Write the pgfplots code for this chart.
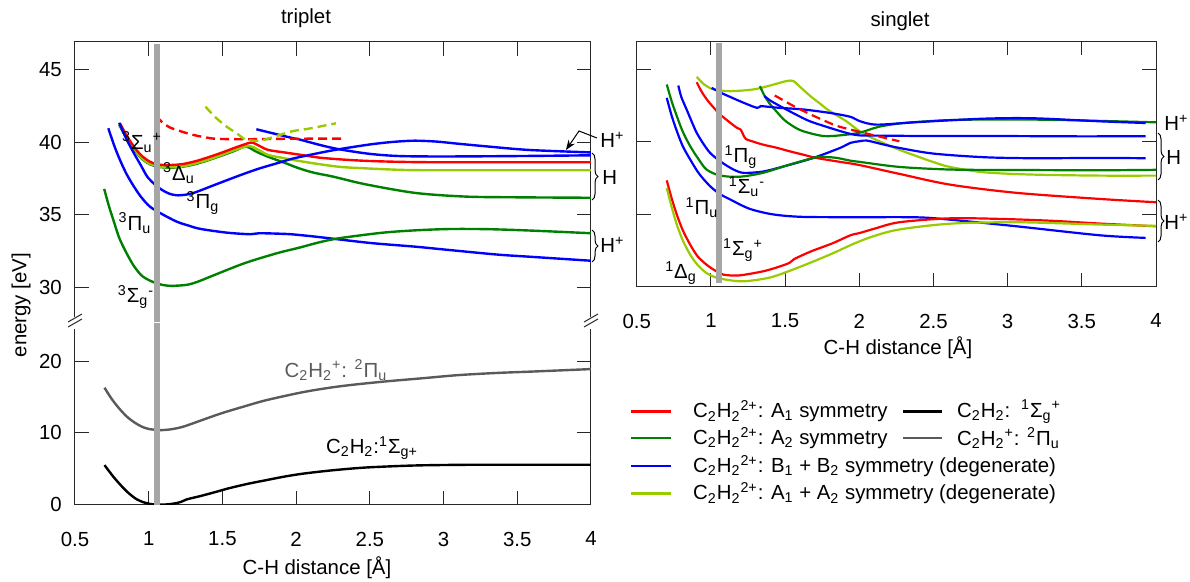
\documentclass[border=0pt]{standalone}
\usepackage{fontspec}
\setmainfont{Liberation Sans}
\usepackage{pgfplots}
\pgfplotsset{compat=1.18}
\usetikzlibrary{decorations.pathreplacing,arrows.meta}

\definecolor{cred}{RGB}{255,0,0}
\definecolor{cgreen}{RGB}{0,128,0}
\definecolor{cblue}{RGB}{0,0,255}
\definecolor{clime}{RGB}{153,204,0}
\definecolor{cgray}{RGB}{90,90,90}
\definecolor{cbar}{RGB}{166,166,166}
\definecolor{cframe}{RGB}{40,40,40}

\newcommand{\su}[1]{\textsuperscript{#1}}
\newcommand{\sd}[1]{\textsubscript{#1}}
\newcommand{\dic}{C\sd{2}H\sd{2}\su{2+}}

\pgfplotsset{
  chart/.style={
    scale only axis, anchor=south west,
    xmin=0.5, xmax=4,
    tick align=inside, major tick length=7pt,
    axis line style={draw=cframe, line width=0.5pt},
    tick style={draw=cframe, line width=0.5pt},
    /pgf/number format/assume math mode=true,
    yticklabel style={xshift=-3pt},
    xticklabel style={yshift=-10pt},
    every axis plot/.append style={no markers, smooth, line width=1.2pt},
  },
  vbar/.style={draw=cbar, line width=3pt, sharp plot},
  dsh/.style={dash pattern=on 4.5pt off 2.5pt},
}

\begin{document}
\fontsize{10.2}{12}\selectfont
\begin{tikzpicture}[x=0.5pt,y=-0.5pt]
\useasboundingbox (0,0) rectangle (1190,582);

% ---------- triplet, upper part
\begin{axis}[chart, at={(37.5pt,-161pt)}, width=258pt, height=140.25pt,
  ymin=27.59, ymax=46.96,
  separate axis lines, axis x line*=top, axis y line*=box,
  xtick={1,1.5,2,2.5,3,3.5}, xticklabels={},
  ytick={30,35,40,45}]
\addplot[cgreen] coordinates {(0.80,41.2)(0.86,40.1)(0.917,39.3)(0.96,38.8)(1.008,38.48)(1.06,38.32)(1.12,38.25)(1.21,38.28)(1.32,38.5)(1.42,38.82)(1.5,39.1)(1.58,39.4)(1.66,39.7)(1.73,39.35)(1.81,39.0)(1.93,38.55)(2.02,38.2)(2.12,37.9)(2.25,37.63)(2.47,37.1)(2.81,36.5)(3.15,36.25)(3.5,36.2)(4.0,36.17)};
\addplot[clime] coordinates {(0.80,41.3)(0.86,40.2)(0.917,39.35)(0.96,38.85)(1.008,38.52)(1.06,38.35)(1.12,38.28)(1.21,38.3)(1.32,38.55)(1.42,38.85)(1.5,39.15)(1.58,39.45)(1.68,39.75)(1.74,39.5)(1.81,39.13)(1.92,38.9)(2.02,38.71)(2.15,38.5)(2.3,38.3)(2.47,38.2)(2.7,38.1)(2.92,38.07)(4.0,38.07)};
\addplot[cred] coordinates {(0.805,41.31)(0.86,40.3)(0.917,39.47)(0.96,39.0)(1.008,38.66)(1.05,38.5)(1.098,38.43)(1.17,38.44)(1.234,38.5)(1.32,38.7)(1.415,39.0)(1.5,39.3)(1.573,39.58)(1.64,39.82)(1.70,39.98)(1.76,39.7)(1.81,39.47)(1.92,39.3)(2.02,39.15)(2.15,38.95)(2.3,38.82)(2.47,38.72)(2.7,38.65)(3.0,38.62)(4.0,38.62)};
\addplot[cblue] coordinates {(0.80,41.35)(0.85,40.2)(0.90,39.24)(0.95,38.35)(0.99,37.63)(1.04,37.1)(1.09,36.71)(1.14,36.45)(1.19,36.34)(1.25,36.38)(1.31,36.52)(1.42,36.95)(1.53,37.38)(1.64,37.8)(1.75,38.19)(1.87,38.55)(1.98,38.88)(2.16,39.27)(2.29,39.52)(2.5,39.85)(2.65,40.02)(2.80,40.11)(2.95,40.05)(3.1,39.9)(3.31,39.7)(3.58,39.47)(4.0,39.3)};
\addplot[cblue] coordinates {(0.726,40.97)(0.765,39.8)(0.805,38.78)(0.85,37.8)(0.90,36.94)(0.95,36.2)(1.008,35.56)(1.08,35.1)(1.19,34.52)(1.27,34.25)(1.35,34.02)(1.53,33.76)(1.69,33.65)(1.75,33.72)(1.93,33.67)(2.02,33.6)(2.16,33.45)(2.5,33.05)(2.81,32.79)(3.0,32.6)(3.36,32.25)(3.58,32.1)(4.0,31.82)};
\addplot[cgreen] coordinates {(0.698,36.78)(0.73,35.6)(0.76,34.64)(0.80,33.4)(0.85,32.34)(0.90,31.45)(0.96,30.73)(1.05,30.27)(1.14,30.09)(1.26,30.16)(1.34,30.4)(1.42,30.73)(1.65,31.65)(1.87,32.34)(2.02,32.72)(2.16,33.1)(2.29,33.37)(2.58,33.75)(2.81,33.92)(3.04,34.01)(3.3,34.0)(3.6,33.9)(4.0,33.72)};
\addplot[cblue] coordinates {(1.73,40.9)(1.85,40.6)(1.98,40.28)(2.02,40.2)(2.16,39.82)(2.29,39.52)(2.5,39.2)(2.70,39.05)(3.0,39.02)(3.5,39.05)(4.0,39.1)};
\addplot[cred, dsh] coordinates {(1.048,41.82)(1.09,41.4)(1.14,41.04)(1.22,40.75)(1.298,40.52)(1.38,40.35)(1.459,40.24)(1.662,40.21)(1.9,40.24)(2.16,40.25)(2.305,40.25)};
\addplot[clime, dsh] coordinates {(1.385,42.46)(1.45,41.75)(1.527,41.09)(1.6,40.6)(1.651,40.21)(1.70,40.12)(1.752,40.1)(1.82,40.28)(1.95,40.7)(2.02,40.85)(2.08,40.93)(2.27,41.31)};
\addplot[vbar] coordinates {(1.055,27.5)(1.055,46.82)};
\end{axis}

% ---------- triplet, lower part
\begin{axis}[chart, at={(37.5pt,-252.35pt)}, width=258pt, height=90.35pt,
  ymin=0, ymax=25.17,
  separate axis lines, axis x line*=bottom, axis y line*=box,
  xtick={0.5,1,...,4}, ytick={0,10,20}]
\addplot[cgray] coordinates {(0.70,16.3)(0.75,14.7)(0.80,13.4)(0.85,12.3)(0.90,11.5)(0.95,10.9)(1.0,10.55)(1.078,10.39)(1.15,10.5)(1.233,10.86)(1.35,11.7)(1.49,12.71)(1.65,13.7)(1.80,14.57)(2.06,15.73)(2.3,16.5)(2.58,17.12)(2.85,17.6)(3.10,18.05)(3.36,18.35)(3.62,18.56)(4.0,18.89)};
\addplot[black] coordinates {(0.70,5.52)(0.76,3.9)(0.82,2.5)(0.87,1.5)(0.92,0.74)(0.97,0.3)(1.026,0.05)(1.08,0.0)(1.13,0.05)(1.18,0.19)(1.22,0.4)(1.26,0.75)(1.35,1.2)(1.45,1.75)(1.54,2.27)(1.67,2.9)(1.80,3.43)(1.93,3.95)(2.06,4.36)(2.25,4.8)(2.45,5.15)(2.65,5.35)(2.84,5.48)(3.1,5.55)(3.36,5.57)(4.0,5.57)};
\addplot[vbar] coordinates {(1.055,0)(1.055,25.3)};
\end{axis}

% ---------- singlet
\begin{axis}[chart, at={(318.4pt,-143.35pt)}, width=259.6pt, height=122.6pt,
  ymin=30, ymax=46.93,
  xtick={0.5,1,...,4}, ytick={35,40,45}, yticklabels={},
  every axis plot/.append style={line width=1.1pt}]
\addplot[clime] coordinates {(0.904,44.49)(0.95,44.0)(1.005,43.66)(1.06,43.55)(1.128,43.5)(1.22,43.55)(1.31,43.66)(1.42,43.95)(1.51,44.2)(1.555,44.2)(1.60,43.8)(1.67,43.16)(1.74,42.6)(1.80,42.13)(1.91,41.44)(2.0,40.75)(2.08,40.3)(2.16,39.93)(2.27,39.45)(2.39,39.0)(2.5,38.6)(2.61,38.27)(2.84,37.9)(3.17,37.74)(3.62,37.67)(4.0,37.67)};
\addplot[cred] coordinates {(0.904,44.12)(0.935,43.5)(0.972,42.93)(1.015,42.4)(1.062,41.89)(1.12,41.4)(1.175,40.97)(1.2,40.85)(1.215,40.55)(1.235,40.2)(1.29,40.0)(1.35,39.81)(1.44,39.6)(1.53,39.35)(1.62,39.12)(1.71,38.89)(1.85,38.65)(2.0,38.4)(2.27,37.79)(2.61,37.05)(3.06,36.48)(3.62,36.06)(4.0,35.83)};
\addplot[cgreen] coordinates {(1.33,43.85)(1.36,43.2)(1.40,42.58)(1.45,42.0)(1.49,41.55)(1.55,41.1)(1.62,40.74)(1.76,40.4)(1.89,40.47)(2.0,40.63)(2.1,40.95)(2.16,41.1)(2.3,41.3)(2.6,41.5)(3.0,41.55)(3.4,41.5)(4.0,41.35)};
\addplot[cblue] coordinates {(1.005,43.73)(1.06,43.42)(1.128,43.11)(1.22,42.7)(1.31,42.35)(1.335,42.47)(1.36,42.45)(1.46,42.35)(1.62,42.24)(1.80,42.0)(1.94,41.73)(2.0,41.44)(2.117,41.19)(2.386,41.36)(2.835,41.6)(3.17,41.63)(3.62,41.42)(3.93,41.3)};
\addplot[cblue] coordinates {(1.36,43.16)(1.40,42.85)(1.46,42.5)(1.57,41.9)(1.66,41.45)(1.76,41.1)(1.91,40.63)(2.0,40.45)(2.16,40.43)(2.5,40.4)(3.0,40.4)(3.5,40.38)(3.93,40.39)};
\addplot[cred, dsh] coordinates {(1.43,43.2)(1.50,42.8)(1.57,42.4)(1.66,41.95)(1.76,41.48)(1.85,41.1)(1.94,40.85)(2.1,40.45)(2.27,40.04)};
\addplot[cblue] coordinates {(0.78,43.89)(0.80,43.1)(0.836,42.23)(0.87,41.4)(0.904,40.62)(0.95,39.85)(0.994,39.24)(1.05,38.75)(1.106,38.36)(1.16,38.05)(1.22,37.86)(1.35,37.95)(1.51,38.36)(1.69,38.89)(1.87,39.58)(1.94,39.93)(2.0,40.04)(2.05,40.09)(2.15,39.85)(2.27,39.58)(2.50,39.19)(2.84,38.94)(3.17,38.87)(3.62,38.89)(3.93,38.87)};
\addplot[cgreen] coordinates {(0.702,43.96)(0.735,42.8)(0.77,41.77)(0.81,40.7)(0.86,39.7)(0.91,38.9)(0.97,38.09)(1.06,37.68)(1.19,37.59)(1.35,37.86)(1.53,38.43)(1.71,38.94)(1.78,38.95)(1.85,38.89)(1.94,38.7)(2.0,38.62)(2.27,38.27)(2.61,38.09)(3.0,38.06)(3.62,38.04)(4.0,38.07)};
\addplot[cblue] coordinates {(0.702,43.04)(0.735,41.8)(0.77,40.74)(0.81,39.7)(0.86,38.78)(0.92,37.8)(0.994,36.94)(1.06,36.4)(1.13,36.02)(1.26,35.38)(1.42,34.99)(1.62,34.82)(2.0,34.8)(2.39,34.79)(2.61,34.63)(3.06,34.17)(3.62,33.55)(3.93,33.37)};
\addplot[cred] coordinates {(0.702,37.34)(0.735,36.1)(0.77,34.97)(0.81,33.9)(0.86,32.9)(0.91,32.1)(0.97,31.52)(1.03,31.1)(1.085,30.83)(1.19,30.78)(1.35,31.06)(1.45,31.35)(1.53,31.65)(1.56,31.9)(1.67,32.42)(1.82,33.0)(1.94,33.55)(2.0,33.7)(2.1,34.0)(2.27,34.45)(2.61,34.72)(2.95,34.68)(3.3,34.55)(3.62,34.36)(4.0,34.17)};
\addplot[clime] coordinates {(0.702,36.81)(0.735,35.5)(0.77,34.28)(0.81,33.2)(0.86,32.21)(0.91,31.5)(0.97,30.94)(1.03,30.65)(1.106,30.48)(1.22,30.37)(1.40,30.64)(1.58,31.29)(1.80,32.21)(1.97,33.0)(2.1,33.5)(2.27,33.95)(2.61,34.35)(3.06,34.45)(3.62,34.29)(4.0,34.2)};
\addplot[vbar] coordinates {(1.056,30.26)(1.056,46.8)};
\end{axis}

% break marks
\fill[white] (70,317) rectangle (80,329);
\fill[white] (586,317) rectangle (596,329);
\draw[cframe, line width=0.5pt] (68,327)--(82,319) (68,322)--(82,314);
\draw[cframe, line width=0.5pt] (584,327)--(598,319) (584,322)--(598,314);

% titles and axis labels
\node at (306,18) {triplet};
\node at (900,21) {singlet};
\node at (317,568) {C-H distance [Å]};
\node at (898,348) {C-H distance [Å]};
\node[rotate=90] at (21,305) {energy [eV]};

% state labels, triplet
\node at (142,142) {\su{3}Σ\sd{u}\su{+}};
\node at (179,173) {\su{3}Δ\sd{u}};
\node at (203,203) {\su{3}Π\sd{g}};
\node at (135,223) {\su{3}Π\sd{u}};
\node at (136,297) {\su{3}Σ\sd{g}\su{-}};
\node[text=cgray] at (336,370) {C\sd{2}H\sd{2}\su{+}: \su{2}Π\sd{u}};
\node at (372,448) {C\sd{2}H\sd{2}:\su{1}Σ\sd{g+}};

% state labels, singlet
\node at (741,157) {\su{1}Π\sd{g}};
\node at (747,187) {\su{1}Σ\sd{u}\su{-}};
\node at (702,208) {\su{1}Π\sd{u}};
\node at (743,250) {\su{1}Σ\sd{g}\su{+}};
\node at (681,273) {\su{1}Δ\sd{g}};

% dissociation limits, triplet
\draw[-{Stealth[length=5pt]}, line width=0.5pt] (597,138) -- (579,131) -- (566,150);
\node[anchor=west, inner sep=1pt] at (598,140) {H\su{+}};
\draw[decorate, decoration={brace, amplitude=3pt}, line width=0.5pt] (592,153) -- (592,200);
\node[anchor=west, inner sep=1pt] at (600,177) {H};
\draw[decorate, decoration={brace, amplitude=3pt}, line width=0.5pt] (592,230) -- (592,262);
\node[anchor=west, inner sep=1pt] at (598,245) {H\su{+}};

% dissociation limits, singlet
\node[anchor=west, inner sep=1pt] at (1162,123) {H\su{+}};
\draw[decorate, decoration={brace, amplitude=3pt}, line width=0.5pt] (1158,133) -- (1158,180);
\node[anchor=west, inner sep=1pt] at (1164,157) {H};
\draw[decorate, decoration={brace, amplitude=3pt}, line width=0.5pt] (1158,200) -- (1158,242);
\node[anchor=west, inner sep=1pt] at (1162,222) {H\su{+}};

% legend
\begin{scope}[line width=1.2pt]
\draw[cred] (631,411.5) -- (671,411.5);
\draw[cgreen] (631,438) -- (671,438);
\draw[cblue] (631,466) -- (671,466);
\draw[clime] (631,493.5) -- (671,493.5);
\draw[black] (903,411.5) -- (942,411.5);
\draw[cgray] (903,438) -- (942,438);
\end{scope}
\node[anchor=west] at (686,411.5) {\dic: A\sd{1} symmetry};
\node[anchor=west] at (686,438) {\dic: A\sd{2} symmetry};
\node[anchor=west] at (686,466) {\dic: B\sd{1} + B\sd{2} symmetry (degenerate)};
\node[anchor=west] at (686,493.5) {\dic: A\sd{1} + A\sd{2} symmetry (degenerate)};
\node[anchor=west] at (950,411.5) {C\sd{2}H\sd{2}:\, \su{1}Σ\sd{g}\su{+}};
\node[anchor=west] at (950,438) {C\sd{2}H\sd{2}\su{+}: \su{2}Π\sd{u}};
\end{tikzpicture}
\end{document}
